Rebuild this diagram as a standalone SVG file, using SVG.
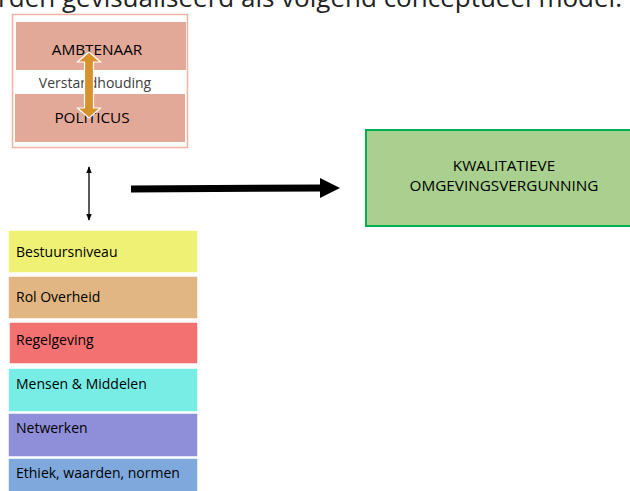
<svg xmlns="http://www.w3.org/2000/svg" width="630" height="491" viewBox="0 0 630 491">
  <defs>
    <style>
      .t { font-family: "Open Sans", "Liberation Sans", sans-serif; fill: #000; }
      .lbl { font-size: 14px; }
      .cap { font-size: 15.3px; text-anchor: middle; }
      .item { stroke: #ffffff; stroke-width: 1.5; }
    </style>
    <marker id="tip" viewBox="0 0 10 10" refX="9" refY="5" markerWidth="7" markerHeight="7" orient="auto-start-reverse" markerUnits="userSpaceOnUse">
      <path d="M0,1 L10,5 L0,9 z" fill="#000"/>
    </marker>
  </defs>
  <rect width="630" height="491" fill="#ffffff"/>

  <!-- running sentence above the model, clipped by the top edge -->
  <text class="t" x="622" y="7" font-size="26" text-anchor="end" style="fill:#222">rden gevisualiseerd als volgend conceptueel model.</text>

  <!-- relation block -->
  <g id="relatie">
    <rect x="12.5" y="14.5" width="175" height="133" fill="#ffffff" stroke="#f0b3a3" stroke-width="1.5"/>
    <g id="ambtenaar">
      <rect x="16" y="22" width="170" height="48" fill="#e2a898"/>
      <text class="t cap" x="97" y="55">AMBTENAAR</text>
    </g>
    <g id="politicus">
      <rect x="15" y="94" width="170" height="48" fill="#e2a898"/>
      <text class="t cap" x="92" y="123">POLITICUS</text>
    </g>
    <text class="t" x="95" y="88" font-size="14" text-anchor="middle" style="fill:#404040">Verstandhouding</text>
    <path d="M89,52 L100.5,62 L93.5,62 L93.5,108 L100.5,108 L89,118 L77.5,108 L84.5,108 L84.5,62 L77.5,62 Z" fill="#d8922c" stroke="#ffffff" stroke-width="1.2"/>
  </g>

  <!-- connectors -->
  <g id="connectors">
    <line x1="89" y1="167" x2="89" y2="220" stroke="#000" stroke-width="1.3" marker-start="url(#tip)" marker-end="url(#tip)"/>
    <line x1="131" y1="189" x2="322" y2="188" stroke="#000" stroke-width="7"/>
    <polygon points="320,178 340,188 320,198" fill="#000"/>
  </g>

  <!-- outcome -->
  <g id="vergunning">
    <rect x="366" y="130" width="270" height="96" fill="#a9d08e" stroke="#00b050" stroke-width="2"/>
    <text class="t cap" x="504" y="171">KWALITATIEVE</text>
    <text class="t cap" x="504" y="191">OMGEVINGSVERGUNNING</text>
  </g>

  <!-- factors -->
  <g id="bestuursniveau">
    <rect class="item" x="8" y="230" width="190" height="43" fill="#eef174"/>
    <text class="t lbl" x="16" y="257">Bestuursniveau</text>
  </g>
  <g id="rol-overheid">
    <rect class="item" x="8" y="276" width="190" height="43" fill="#e2b682"/>
    <text class="t lbl" x="16" y="302">Rol Overheid</text>
  </g>
  <g id="regelgeving">
    <rect class="item" x="9" y="322" width="189" height="42" fill="#f47172"/>
    <text class="t lbl" x="16" y="345">Regelgeving</text>
  </g>
  <g id="mensen-middelen">
    <rect class="item" x="8" y="368" width="190" height="44" fill="#77ede6"/>
    <text class="t lbl" x="16" y="389">Mensen &amp; Middelen</text>
  </g>
  <g id="netwerken">
    <rect class="item" x="8" y="413" width="190" height="44" fill="#8f8ed9"/>
    <text class="t lbl" x="16" y="433">Netwerken</text>
  </g>
  <g id="ethiek">
    <rect class="item" x="8" y="458" width="190" height="40" fill="#7fa9dd"/>
    <text class="t lbl" x="16" y="478">Ethiek, waarden, normen</text>
  </g>
</svg>
